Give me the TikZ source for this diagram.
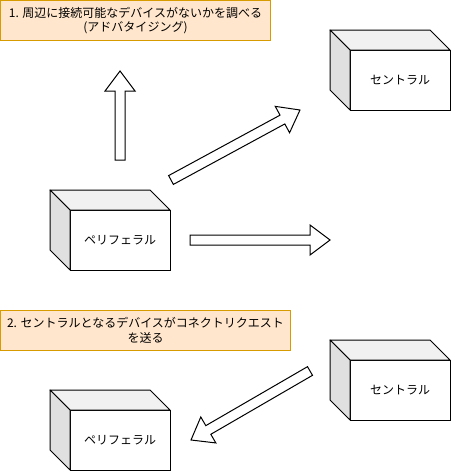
\documentclass[tikz,border=0pt]{standalone}
\usepackage{fontspec}
\setmainfont{Noto Sans CJK JP}
\usetikzlibrary{calc}

\definecolor{notefill}{HTML}{FFE6CC}
\definecolor{notedraw}{HTML}{D79B00}
\definecolor{cubetop}{HTML}{F1F1F1}
\definecolor{cubeside}{HTML}{E0E0E0}

% cube: name, centre of front face, label
\newcommand{\devbox}[3]{%
  \node[front] (#1) at (#2) {#3};
  \draw[face, fill=cubetop] (#1.north west) -- ++(-20,-20) -- ++(100,0) -- (#1.north east) -- cycle;
  \draw[face, fill=cubeside] (#1.north west) -- ++(-20,-20) -- ++(0,60) -- (#1.south west) -- cycle;
}
% block arrow from one coordinate to another
\newcommand{\bigarrow}[2]{%
  \draw[blockarrow] let \p1=(#1), \p2=(#2), \n1={atan2(\y2-\y1,\x2-\x1)}, \n2={veclen(\x2-\x1,\y2-\y1)} in
    [shift={(\p1)}, rotate=\n1] (0pt,5pt) -- ({\n2-20pt},5pt) -- ({\n2-20pt},15pt) -- ({\n2},0pt)
    -- ({\n2-20pt},-15pt) -- ({\n2-20pt},-5pt) -- (0pt,-5pt) -- cycle;
}

\begin{document}
\begin{tikzpicture}[x=1pt, y=-1pt,
    font=\fontsize{12pt}{14.5pt}\selectfont,
    front/.style={draw, fill=white, line width=1pt, minimum width=100pt, minimum height=60pt, inner sep=0pt, outer sep=0pt},
    face/.style={line width=1pt, line join=round},
    note/.style={draw=notedraw, fill=notefill, line width=1pt, anchor=north west, align=center, inner sep=0pt, minimum height=40pt},
    blockarrow/.style={draw, fill=white, line width=1pt, line join=miter}]
  \useasboundingbox (0,0) rectangle (451,471);

  % 1. advertising
  \node[note, minimum width=270pt] (step1) at (0,0) {1. 周辺に接続可能なデバイスがないかを調べる\\(アドバタイジング)};
  \devbox{central1}{400,80}{セントラル}
  \devbox{peri1}{120,240}{ペリフェラル}
  \coordinate (upS) at (120,160);
  \coordinate (upE) at (120,71);
  \coordinate (diagS) at (171,180);
  \coordinate (diagE) at (300,110);
  \coordinate (rightS) at (190,240);
  \coordinate (rightE) at (330,240);
  \bigarrow{upS}{upE}
  \bigarrow{diagS}{diagE}
  \bigarrow{rightS}{rightE}

  % 2. connect request
  \node[note, minimum width=290pt] (step2) at (0,310) {2. セントラルとなるデバイスがコネクトリクエスト\\を送る};
  \devbox{central2}{400,390}{セントラル}
  \devbox{peri2}{120,440}{ペリフェラル}
  \coordinate (reqS) at (310,371);
  \coordinate (reqE) at (191,440);
  \bigarrow{reqS}{reqE}
\end{tikzpicture}
\end{document}
